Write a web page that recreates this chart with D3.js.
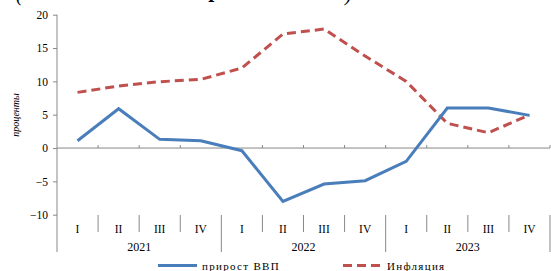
<!DOCTYPE html>
<html lang="ru">
<head>
<meta charset="utf-8">
<script src="https://d3js.org/d3.v7.min.js"></script>
<style>
  body { margin: 0; background: #fff; }
  text { font-family: "Liberation Serif", "Times New Roman", serif; fill: #000; }
</style>
</head>
<body>
<script>
// data
var quarters = ["I", "II", "III", "IV", "I", "II", "III", "IV", "I", "II", "III", "IV"];
var years = ["2021", "2022", "2023"];
var gdp = [1.1, 5.9, 1.3, 1.1, -0.4, -8.0, -5.4, -4.9, -2.0, 6.0, 6.0, 4.9];
var inflation = [8.35, 9.3, 9.95, 10.3, 12.0, 17.1, 17.85, 13.8, 10.0, 3.7, 2.3, 4.95];
var yTicks = [-10, -5, 0, 5, 10, 15, 20];

var w = 551, h = 271;
var svg = d3.select("body").append("svg").attr("width", w).attr("height", h);

var x = d3.scaleBand().domain(d3.range(quarters.length)).range([57, 550]).padding(0);
var y = d3.scaleLinear().domain([-10, 20]).range([214.7, 14.7]);
var cx = function(i) { return x(i) + x.bandwidth() / 2; };

// cut title fragments at the top
svg.append("text").attr("x", 16).attr("y", 1).style("font-size", "20px").style("font-style", "italic").text("(");
svg.append("text").attr("x", 210).attr("y", -3).style("font-size", "22px").style("font-style", "italic").style("font-weight", "bold").text("р");
svg.append("text").attr("x", 345).attr("y", 1).style("font-size", "20px").style("font-style", "italic").text(")");

// y axis
var yAxis = d3.axisLeft(y).tickValues(yTicks).tickSize(4).tickFormat(d3.format("d"));
var gy = svg.append("g").attr("transform", "translate(57,0)").call(yAxis);
gy.select(".domain").remove();
gy.selectAll("line").attr("stroke", "#888");
gy.selectAll("text").style("font-size", "11.5px").attr("dx", "-2");
svg.append("line").attr("x1", 57).attr("x2", 57).attr("y1", y(20)).attr("y2", 252).attr("stroke", "#888");

svg.append("text")
  .attr("transform", "translate(19," + 115 + ") rotate(-90)")
  .attr("text-anchor", "middle")
  .style("font-size", "10px").style("font-style", "italic")
  .text("проценты");

// zero line with small ticks
svg.append("line").attr("x1", 57).attr("x2", 550).attr("y1", y(0)).attr("y2", y(0)).attr("stroke", "#888");
svg.selectAll(".zt").data(d3.range(1, quarters.length + 1)).enter().append("line")
  .attr("x1", function(i) { return x(0) + i * x.bandwidth(); })
  .attr("x2", function(i) { return x(0) + i * x.bandwidth(); })
  .attr("y1", y(0) - 3).attr("y2", y(0))
  .attr("stroke", "#888");

// category separators
svg.selectAll(".sep").data(d3.range(1, quarters.length + 1)).enter().append("line")
  .attr("x1", function(i) { return x(0) + i * x.bandwidth(); })
  .attr("x2", function(i) { return x(0) + i * x.bandwidth(); })
  .attr("y1", 215)
  .attr("y2", function(i) { return i % 4 === 0 ? 252 : 232; })
  .attr("stroke", "#888");

svg.selectAll(".q").data(quarters).enter().append("text")
  .attr("x", function(d, i) { return cx(i); })
  .attr("y", 233)
  .attr("text-anchor", "middle")
  .style("font-size", "11.5px")
  .text(function(d) { return d; });

svg.selectAll(".yr").data(years).enter().append("text")
  .attr("x", function(d, i) { return x(i * 4) + 2 * x.bandwidth(); })
  .attr("y", 251)
  .attr("text-anchor", "middle")
  .style("font-size", "12px")
  .text(function(d) { return d; });

// lines
var line = d3.line().x(function(d, i) { return cx(i); }).y(function(d) { return y(d); });

svg.append("path").datum(inflation).attr("d", line)
  .attr("fill", "none").attr("stroke", "#C0504D").attr("stroke-width", 3)
  .attr("stroke-dasharray", "9,5");

svg.append("path").datum(gdp).attr("d", line)
  .attr("fill", "none").attr("stroke", "#4A7EBB").attr("stroke-width", 3);

// legend
svg.append("line").attr("x1", 158).attr("x2", 197).attr("y1", 265.5).attr("y2", 265.5)
  .attr("stroke", "#4A7EBB").attr("stroke-width", 3);
svg.append("text").attr("x", 202).attr("y", 269.5).style("font-size", "11px").style("letter-spacing", "1.3px").text("прирост ВВП");
svg.append("line").attr("x1", 343).attr("x2", 381).attr("y1", 265.5).attr("y2", 265.5)
  .attr("stroke", "#C0504D").attr("stroke-width", 3).attr("stroke-dasharray", "9,5");
svg.append("text").attr("x", 387).attr("y", 269.5).style("font-size", "11px").style("letter-spacing", "1.3px").text("Инфляция");
</script>
</body>
</html>
